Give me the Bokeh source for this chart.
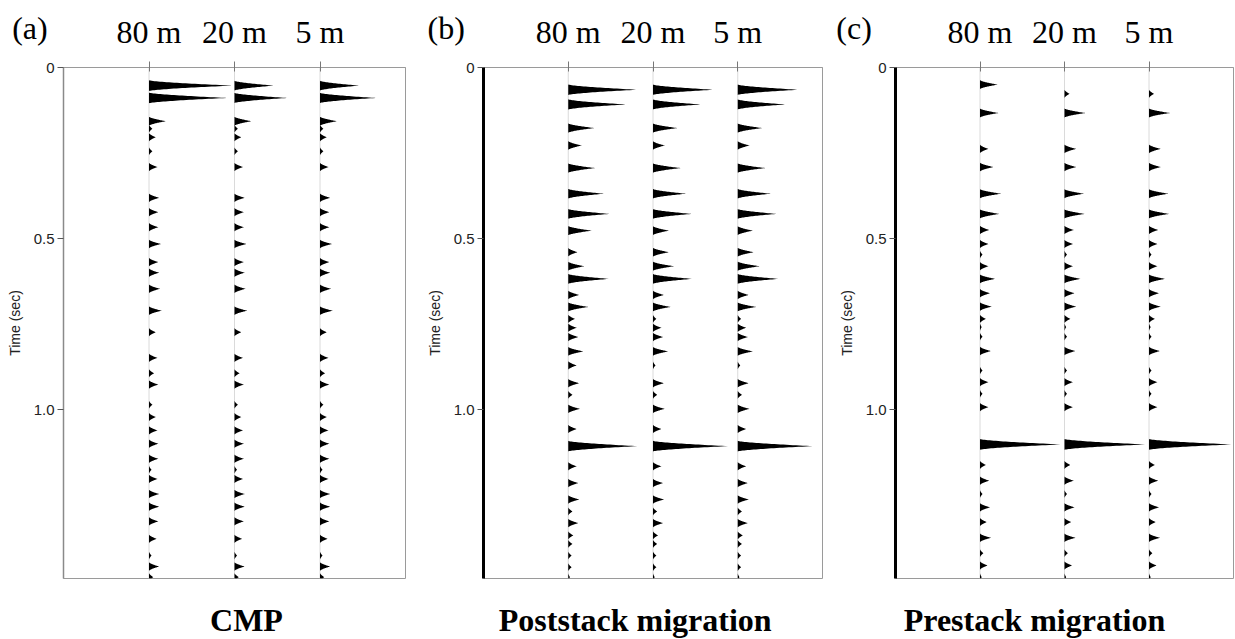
import numpy as np
from bokeh.plotting import figure
from bokeh.models import Range1d, FixedTicker
from bokeh.layouts import row, column
from bokeh.core.properties import value
from bokeh.embed import file_html
from bokeh.resources import INLINE

# ---------------- data ----------------
trace_labels = ["80 m", "20 m", "5 m"]
trace_pos = [1, 2, 3]
time_ticks = [0, 0.5, 1.0]
time_tick_labels = ["0", "0.5", "1.0"]
T_END = 1.494

# (a) CMP
cmp_t = [0.053, 0.089, 0.157, 0.179, 0.204, 0.245, 0.291, 0.381, 0.423, 0.467, 0.516,
         0.569, 0.600, 0.647, 0.711, 0.774, 0.849, 0.894, 0.927, 0.986, 1.022, 1.061,
         1.100, 1.144, 1.176, 1.203, 1.247, 1.284, 1.327, 1.378, 1.427, 1.459, 1.490]
cmp_80 = [0.98, 0.92, 0.20, 0.04, 0.08, 0.04, 0.10, 0.12, 0.11, 0.11, 0.14,
          0.11, 0.12, 0.13, 0.15, 0.08, 0.10, 0.06, 0.11, 0.04, 0.08, 0.10,
          0.11, 0.11, 0.03, 0.10, 0.12, 0.12, 0.11, 0.09, 0.03, 0.12, 0.05]
cmp_20 = [0.46, 0.62, 0.20, 0.04, 0.08, 0.04, 0.10, 0.12, 0.11, 0.11, 0.14,
          0.11, 0.12, 0.13, 0.15, 0.08, 0.10, 0.06, 0.11, 0.04, 0.08, 0.10,
          0.11, 0.11, 0.03, 0.10, 0.12, 0.12, 0.11, 0.09, 0.03, 0.12, 0.05]
cmp_5 = [0.46, 0.66, 0.20, 0.04, 0.08, 0.04, 0.10, 0.12, 0.11, 0.11, 0.14,
         0.11, 0.12, 0.13, 0.15, 0.08, 0.10, 0.06, 0.11, 0.04, 0.08, 0.10,
         0.11, 0.11, 0.03, 0.10, 0.12, 0.12, 0.11, 0.09, 0.03, 0.12, 0.05]

# (b) Poststack migration
post_t = [0.065, 0.108, 0.177, 0.228, 0.294, 0.369, 0.428, 0.477, 0.540, 0.581, 0.618,
          0.665, 0.700, 0.735, 0.761, 0.788, 0.830, 0.871, 0.923, 0.957, 0.998, 1.057,
          1.107, 1.166, 1.215, 1.263, 1.298, 1.332, 1.368, 1.393, 1.427, 1.461, 1.490]
post_80 = [0.82, 0.68, 0.31, 0.16, 0.32, 0.42, 0.49, 0.28, 0.11, 0.19, 0.48,
           0.13, 0.24, 0.08, 0.10, 0.12, 0.18, 0.10, 0.13, 0.05, 0.14, 0.10,
           0.82, 0.10, 0.12, 0.13, 0.05, 0.12, 0.06, 0.05, 0.04, 0.04, 0.02]
post_20 = [0.72, 0.56, 0.29, 0.14, 0.33, 0.39, 0.46, 0.19, 0.19, 0.25, 0.46,
           0.13, 0.21, 0.04, 0.10, 0.12, 0.18, 0.03, 0.13, 0.05, 0.14, 0.10,
           0.89, 0.10, 0.12, 0.13, 0.05, 0.12, 0.06, 0.05, 0.04, 0.04, 0.02]
post_5 = [0.72, 0.56, 0.29, 0.14, 0.33, 0.39, 0.46, 0.18, 0.19, 0.26, 0.48,
          0.13, 0.22, 0.04, 0.10, 0.12, 0.18, 0.03, 0.13, 0.05, 0.14, 0.10,
          0.89, 0.10, 0.12, 0.13, 0.05, 0.12, 0.06, 0.05, 0.04, 0.04, 0.02]

# (c) Prestack migration
pre_t = [0.050, 0.077, 0.133, 0.238, 0.291, 0.369, 0.428, 0.475, 0.516, 0.547, 0.581,
         0.618, 0.660, 0.699, 0.735, 0.759, 0.787, 0.829, 0.886, 0.920, 0.954, 0.993,
         1.102, 1.162, 1.208, 1.247, 1.286, 1.329, 1.375, 1.420, 1.456, 1.490]
pre_80 = [0.21, 0.00, 0.22, 0.10, 0.16, 0.25, 0.23, 0.11, 0.10, 0.03, 0.10,
          0.18, 0.12, 0.14, 0.07, 0.02, 0.03, 0.13, 0.03, 0.10, 0.03, 0.10,
          0.96, 0.07, 0.11, 0.03, 0.12, 0.08, 0.13, 0.04, 0.09, 0.02]
pre_20 = [0.00, 0.06, 0.25, 0.14, 0.14, 0.23, 0.24, 0.11, 0.10, 0.03, 0.10,
          0.19, 0.12, 0.14, 0.07, 0.02, 0.03, 0.13, 0.03, 0.10, 0.03, 0.10,
          0.96, 0.07, 0.11, 0.03, 0.12, 0.08, 0.13, 0.04, 0.09, 0.02]
pre_5 = [0.00, 0.06, 0.25, 0.14, 0.14, 0.23, 0.24, 0.11, 0.10, 0.03, 0.10,
         0.19, 0.12, 0.14, 0.07, 0.02, 0.03, 0.13, 0.03, 0.10, 0.03, 0.10,
         0.98, 0.07, 0.11, 0.03, 0.12, 0.08, 0.13, 0.04, 0.09, 0.02]

panel_letters = ["(a)", "(b)", "(c)"]
panel_titles = ["CMP", "Poststack migration", "Prestack migration"]

# ---------------- layout / style ----------------
HEAD_H = 55
MAIN_TOP = 12
FRAME_H = 511
MAIN_BOTTOM = 3
FOOT_H = 58
BASE_FIX = 12          # compensation for the text glyph baseline placement
PX_PER_SEC = FRAME_H / T_END
t_grid = np.linspace(0, T_END, 3001)


def build_trace(times, amps):
    out = np.zeros_like(t_grid)
    for t0, a in zip(times, amps):
        if a <= 0:
            continue
        h = (3.8 + 1.6 * np.sqrt(a)) / PX_PER_SEC
        u = np.abs(t_grid - t0) / h
        lobe = a * np.clip(1.0 - u, 0, None) ** 1.5
        out = np.maximum(out, lobe)
    return out


def text_fig(width, height, x_start, x_end):
    f = figure(width=width, height=height, x_range=Range1d(x_start, x_end),
               y_range=Range1d(0, height), output_backend="svg",
               toolbar_location=None, x_axis_location=None, y_axis_location=None,
               min_border=0, frame_align=False)
    f.xgrid.visible = False
    f.ygrid.visible = False
    f.outline_line_color = None
    f.background_fill_color = "white"
    f.border_fill_color = "white"
    return f


def make_panel(letter, letter_x, title, title_x, times, amp_sets,
               left, frame_w, right, axis_color, axis_width):
    width = left + frame_w + right
    upx = frame_w / 4.0
    xs, xe = -left / upx, 4 + right / upx

    # header: panel letter + trace labels
    head = text_fig(width, HEAD_H, xs, xe)
    head.text(x=trace_pos, y=[HEAD_H - 43 + BASE_FIX] * len(trace_pos), text=trace_labels,
              text_font=value("Liberation Serif"), text_font_size=value("32px"),
              text_color="black", text_align="center", text_baseline="alphabetic")
    head.text(x=[letter_x], y=[HEAD_H - 39 + BASE_FIX], text=[letter],
              text_font=value("Liberation Serif"), text_font_size=value("32px"),
              text_color="black", text_align="left", text_baseline="alphabetic")

    # main wiggle panel
    p = figure(width=width, height=MAIN_TOP + FRAME_H + MAIN_BOTTOM,
               x_range=Range1d(0, 4), y_range=Range1d(T_END, 0),
               x_axis_location="above", output_backend="svg",
               toolbar_location=None, min_border_left=left,
               min_border_right=right, min_border_top=MAIN_TOP,
               min_border_bottom=MAIN_BOTTOM)
    p.xgrid.visible = False
    p.ygrid.visible = False
    p.outline_line_color = "#9a9a9a"
    p.outline_line_width = 1
    p.background_fill_color = "white"
    p.border_fill_color = "white"

    xa = p.xaxis[0]
    xa.ticker = FixedTicker(ticks=[], minor_ticks=trace_pos)
    xa.major_tick_line_color = None
    xa.minor_tick_in = 4
    xa.minor_tick_out = 6
    xa.minor_tick_line_color = "#777777"
    xa.major_label_standoff = 0
    xa.axis_line_color = "#9a9a9a"

    ya = p.yaxis[0]
    ya.ticker = FixedTicker(ticks=time_ticks)
    ya.major_label_overrides = {tv: lab for tv, lab in zip(time_ticks, time_tick_labels)}
    ya.major_label_text_font = "Liberation Sans"
    ya.major_label_text_font_size = "15px"
    ya.major_label_text_color = "#222222"
    ya.major_tick_in = 0
    ya.major_tick_out = 6
    ya.major_tick_line_color = "#555555"
    ya.minor_tick_line_color = None
    ya.axis_line_color = axis_color
    ya.axis_line_width = axis_width
    ya.major_label_standoff = 3
    ya.axis_label = "Time (sec)"
    ya.axis_label_text_font = "Liberation Sans"
    ya.axis_label_text_font_size = "14px"
    ya.axis_label_text_font_style = "normal"
    ya.axis_label_text_color = "#222222"
    ya.axis_label_standoff = 8

    for pos, amps in zip(trace_pos, amp_sets):
        tr = build_trace(times, amps)
        p.line(x=[pos, pos], y=[0, T_END], line_color="#dadada", line_width=1)
        p.harea(x1=np.full_like(t_grid, pos), x2=pos + tr, y=t_grid,
                fill_color="black")

    # footer: panel title
    foot = text_fig(width, FOOT_H, xs, xe)
    foot.text(x=[title_x], y=[FOOT_H - 50 + BASE_FIX], text=[title],
              text_font=value("Liberation Serif"), text_font_size=value("32px"),
              text_font_style="bold", text_color="black",
              text_align="center", text_baseline="alphabetic")
    return column(head, p, foot)


ca = make_panel(panel_letters[0], -0.60, panel_titles[0], 2.14, cmp_t,
                [cmp_80, cmp_20, cmp_5], 63, 342, 15, "#8a8a8a", 1.5)
cb = make_panel(panel_letters[1], -0.66, panel_titles[1], 1.79, post_t,
                [post_80, post_20, post_5], 63, 339, 10, "black", 3)
cc = make_panel(panel_letters[2], -0.70, panel_titles[2], 1.645, pre_t,
                [pre_80, pre_20, pre_5], 63, 338, 2, "black", 3)

layout = row(ca, cb, cc)
open("out.html", "w").write(file_html(layout, INLINE))
